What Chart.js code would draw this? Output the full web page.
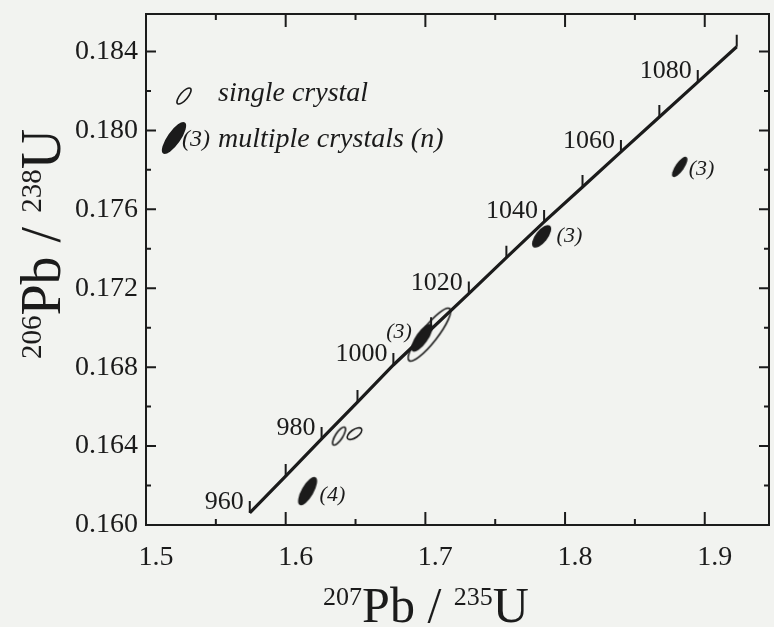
<!DOCTYPE html>
<html>
<head>
<meta charset="utf-8">
<script src="https://cdn.jsdelivr.net/npm/chart.js@4.4.1/dist/chart.umd.min.js"></script>
<style>
body { margin: 0; background: #f2f3f0; }
</style>
</head>
<body>
<canvas id="concordiaChart" width="774" height="627"></canvas>
<script>
// Concordia curve at every 10 Ma tick
var concordiaAge = [960, 970, 980, 990, 1000, 1010, 1020, 1030, 1040, 1050, 1060, 1070, 1080, 1090];
var concordiaX = [1.5743, 1.6000, 1.6257, 1.6514, 1.6771, 1.7041, 1.7311, 1.7580, 1.7850, 1.8125, 1.8400, 1.8675, 1.8950, 1.9229];
var concordiaY = [0.16061, 0.16248, 0.16436, 0.16623, 0.16811, 0.16992, 0.17173, 0.17355, 0.17536, 0.17713, 0.17891, 0.18068, 0.18245, 0.18424];

// single crystal analyses (open ellipses)
var singleX = [1.6382, 1.6493, 1.7029];
var singleY = [0.16451, 0.16463, 0.16965];

// multiple crystal analyses (filled ellipses) and number of crystals n
var multiX = [1.6157, 1.6975, 1.7832, 1.8821];
var multiY = [0.16172, 0.16949, 0.17463, 0.17815];
var multiN = [4, 3, 3, 3];

var xTickLabels = ['1.5', '1.6', '1.7', '1.8', '1.9'];
var yTickLabels = ['0.160', '0.164', '0.168', '0.172', '0.176', '0.180', '0.184'];

var ink = '#1b1b1b';
var serif = "'Liberation Serif', 'Times New Roman', serif";

// ellipse shapes in pixels (half axes, tilt in degrees)
var singleShape = [[10.5, 3.6, -57], [8.5, 4, -35], [33, 8, -52]];
var multiShape = [[16, 6, -60], [16.5, 6, -55], [13.5, 6, -52], [12, 4.3, -55]];
// where the (n) labels sit relative to their ellipse
var multiLabelPos = [[12, 10, 'left'], [-10, 0, 'right'], [15, 6, 'left'], [9, 8, 'left']];

function makeEllipse(shape, filled)
{
    var size = Math.ceil(2 * Math.max(shape[0], shape[1]) + 6);
    var c = document.createElement('canvas');
    c.width = size;
    c.height = size;
    var g = c.getContext('2d');
    g.beginPath();
    g.ellipse(size / 2, size / 2, shape[0], shape[1], shape[2] * Math.PI / 180, 0, 2 * Math.PI);
    if (filled) {
        g.fillStyle = ink;
        g.fill();
    } else {
        g.strokeStyle = ink;
        g.lineWidth = 1.6;
        g.stroke();
    }
    return c;
}

var singleImgs = singleShape.map(function (s) { return makeEllipse(s, false); });
var multiImgs = multiShape.map(function (s) { return makeEllipse(s, true); });
var legendOpen = makeEllipse([10, 3.8, -50], false);
var legendFilled = makeEllipse([19, 6.5, -55], true);

function toPoints(xs, ys)
{
    var pts = [];
    for (var i = 0; i < xs.length; i++) pts.push({x: xs[i], y: ys[i]});
    return pts;
}

function isLabelled(v, list, digits)
{
    var s = v.toFixed(digits);
    return list.indexOf(s) >= 0 && Math.abs(v - parseFloat(s)) < 1e-9;
}

// draw text with raised mass numbers, e.g. 207Pb
function drawIsotope(ctx, x, y, parts, big, small)
{
    parts.forEach(function (p) {
        ctx.font = (p.sup ? small : big) + 'px ' + serif;
        ctx.fillText(p.t, x, p.sup ? y - big * 0.34 : y);
        x += ctx.measureText(p.t).width;
    });
    return x;
}

function isotopeWidth(ctx, parts, big, small)
{
    var w = 0;
    parts.forEach(function (p) {
        ctx.font = (p.sup ? small : big) + 'px ' + serif;
        w += ctx.measureText(p.t).width;
    });
    return w;
}

var backgroundPlugin = {
    id: 'paper',
    beforeDraw: function (chart) {
        var ctx = chart.ctx;
        ctx.save();
        ctx.fillStyle = '#f2f3f0';
        ctx.fillRect(0, 0, chart.width, chart.height);
        ctx.restore();
    }
};

var decorPlugin = {
    id: 'decor',
    afterDraw: function (chart) {
        var ctx = chart.ctx;
        var a = chart.chartArea;
        var xs = chart.scales.x, ys = chart.scales.y;
        ctx.save();
        ctx.strokeStyle = ink;
        ctx.fillStyle = ink;

        // frame
        ctx.lineWidth = 2;
        ctx.strokeRect(a.left, a.top, a.right - a.left, a.bottom - a.top);

        // inward ticks on all four sides
        ctx.beginPath();
        xs.ticks.forEach(function (t) {
            var px = xs.getPixelForValue(t.value);
            var len = isLabelled(t.value, xTickLabels, 1) ? 13 : 6;
            ctx.moveTo(px, a.bottom); ctx.lineTo(px, a.bottom - len);
            ctx.moveTo(px, a.top); ctx.lineTo(px, a.top + len);
        });
        ys.ticks.forEach(function (t) {
            var py = ys.getPixelForValue(t.value);
            var len = isLabelled(t.value, yTickLabels, 3) ? 10 : 5;
            ctx.moveTo(a.left, py); ctx.lineTo(a.left + len, py);
            ctx.moveTo(a.right, py); ctx.lineTo(a.right - len, py);
        });
        ctx.stroke();

        // age ticks and labels on the concordia
        ctx.lineWidth = 2;
        ctx.beginPath();
        for (var i = 0; i < concordiaAge.length; i++) {
            var cx = xs.getPixelForValue(concordiaX[i]);
            var cy = ys.getPixelForValue(concordiaY[i]);
            ctx.moveTo(cx, cy);
            ctx.lineTo(cx, cy - 12);
        }
        ctx.stroke();
        ctx.font = '26px ' + serif;
        ctx.textAlign = 'right';
        ctx.textBaseline = 'alphabetic';
        for (var j = 0; j < concordiaAge.length; j++) {
            if (concordiaAge[j] % 20 !== 0) continue;
            ctx.fillText(String(concordiaAge[j]), xs.getPixelForValue(concordiaX[j]) - 6, ys.getPixelForValue(concordiaY[j]) - 4);
        }

        // (n) labels next to the filled ellipses
        ctx.font = 'italic 22px ' + serif;
        for (var k = 0; k < multiX.length; k++) {
            var pos = multiLabelPos[k];
            ctx.textAlign = pos[2];
            ctx.fillText('(' + multiN[k] + ')', xs.getPixelForValue(multiX[k]) + pos[0], ys.getPixelForValue(multiY[k]) + pos[1]);
        }

        // legend
        ctx.drawImage(legendOpen, 184 - legendOpen.width / 2, 96 - legendOpen.height / 2);
        ctx.drawImage(legendFilled, 174 - legendFilled.width / 2, 138 - legendFilled.height / 2);
        ctx.textAlign = 'left';
        ctx.font = 'italic 28px ' + serif;
        ctx.fillText('single crystal', 218, 101);
        ctx.fillText('multiple crystals (n)', 218, 147);
        ctx.font = 'italic 24px ' + serif;
        ctx.fillText('(3)', 182, 146);

        // axis titles
        var xTitle = [{t: '207', sup: true}, {t: 'Pb / '}, {t: '235', sup: true}, {t: 'U'}];
        var yTitle = [{t: '206', sup: true}, {t: 'Pb / '}, {t: '238', sup: true}, {t: 'U'}];
        ctx.textAlign = 'left';
        var wx = isotopeWidth(ctx, xTitle, 50, 26);
        drawIsotope(ctx, 426 - wx / 2, 622, xTitle, 50, 26);

        var wy = isotopeWidth(ctx, yTitle, 56, 29);
        ctx.translate(60, 244);
        ctx.rotate(-Math.PI / 2);
        drawIsotope(ctx, -wy / 2, 0, yTitle, 56, 29);
        ctx.restore();
    }
};

var chart = new Chart(document.getElementById('concordiaChart'), {
    type: 'scatter',
    data: {
        datasets: [
            {
                label: 'concordia',
                data: toPoints(concordiaX, concordiaY),
                showLine: true,
                borderColor: ink,
                borderWidth: 3.2,
                pointRadius: 0,
                tension: 0
            },
            {
                label: 'single crystal',
                data: toPoints(singleX, singleY),
                pointStyle: singleImgs,
                pointRadius: 4
            },
            {
                label: 'multiple crystals (n)',
                data: toPoints(multiX, multiY),
                pointStyle: multiImgs,
                pointRadius: 4
            }
        ]
    },
    options: {
        responsive: false,
        animation: false,
        events: [],
        layout: { padding: { top: 14, right: 3, left: 0, bottom: 0 } },
        plugins: {
            legend: { display: false },
            tooltip: { enabled: false }
        },
        scales: {
            x: {
                type: 'linear',
                min: 1.5,
                max: 1.946,
                afterFit: function (s) { s.height = 102; s.paddingLeft = 0; s.paddingRight = 0; },
                border: { display: false },
                grid: { display: false, drawTicks: false },
                ticks: {
                    stepSize: 0.05,
                    includeBounds: false,
                    autoSkip: false,
                    maxRotation: 0,
                    padding: 16,
                    labelOffset: 10,
                    color: ink,
                    font: { family: serif, size: 28 },
                    callback: function (v) { return isLabelled(v, xTickLabels, 1) ? v.toFixed(1) : ''; }
                }
            },
            y: {
                type: 'linear',
                min: 0.160,
                max: 0.1859,
                afterFit: function (s) { s.width = 146; s.paddingTop = 0; s.paddingBottom = 0; },
                border: { display: false },
                grid: { display: false, drawTicks: false },
                ticks: {
                    stepSize: 0.002,
                    includeBounds: false,
                    autoSkip: false,
                    padding: 8,
                    color: ink,
                    font: { family: serif, size: 28 },
                    callback: function (v) { return isLabelled(v, yTickLabels, 3) ? v.toFixed(3) : ''; }
                }
            }
        }
    },
    plugins: [backgroundPlugin, decorPlugin]
});
</script>
</body>
</html>
